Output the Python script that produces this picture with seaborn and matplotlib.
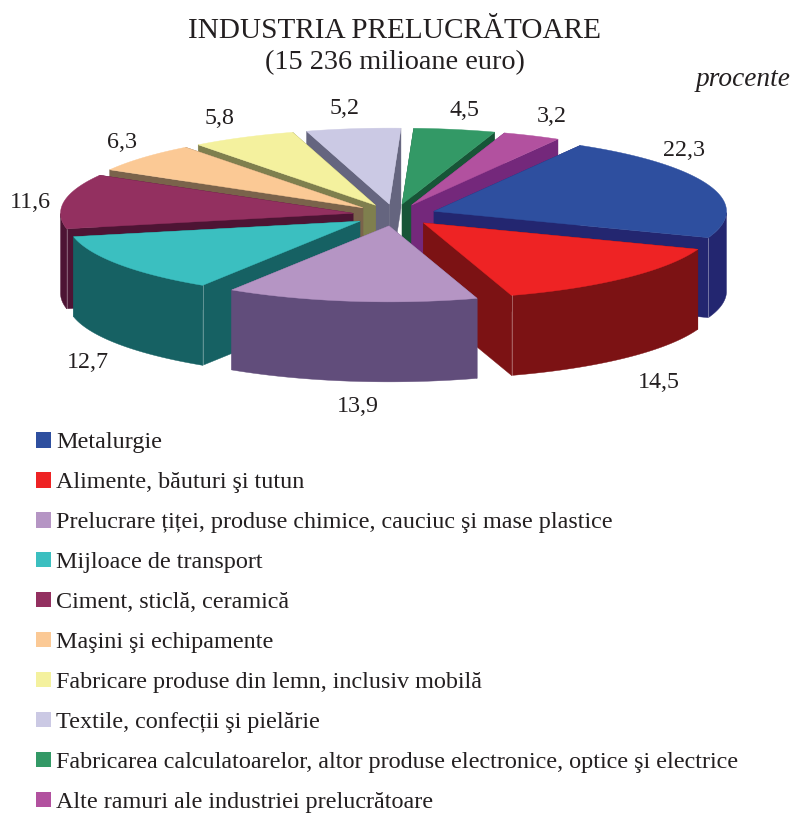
import numpy as np
import matplotlib
matplotlib.use('Agg')
import matplotlib.pyplot as plt
from matplotlib.patches import Patch, Polygon
import seaborn as sns

# --- data ---
categories = [
    'Metalurgie',
    'Alimente, băuturi şi tutun',
    'Prelucrare țiței, produse chimice, cauciuc şi mase plastice',
    'Mijloace de transport',
    'Ciment, sticlă, ceramică',
    'Maşini şi echipamente',
    'Fabricare produse din lemn, inclusiv mobilă',
    'Textile, confecții şi pielărie',
    'Fabricarea calculatoarelor, altor produse electronice, optice şi electrice',
    'Alte ramuri ale industriei prelucrătoare',
]
values = [22.3, 14.5, 13.9, 12.7, 11.6, 6.3, 5.8, 5.2, 4.5, 3.2]
value_labels = ['22,3', '14,5', '13,9', '12,7', '11,6', '6,3', '5,8', '5,2', '4,5', '3,2']
top_colors = ['#2e4f9f', '#ee2324', '#b595c4', '#3bbfc0', '#933060',
              '#fbc995', '#f4f19e', '#cbc9e4', '#339966', '#b2519f']
side_colors = ['#232670', '#7c1214', '#614d7b', '#166163', '#4d1434',
               '#7a634b', '#7f7f4e', '#65657f', '#175537', '#74287b']

# --- layout, in pixels of the 790x816 picture ---
CX, CY = 394.5, 215
RX, SQUASH = 292.5, 0.26
DEPTH = 80
EXPLODE = 42
START = 60
label_xy = [(684, 150), (659, 383), (358, 407), (88, 363), (30, 202),
            (122, 142), (220, 119), (345, 109), (464, 111), (552, 117)]
TEXT = '#231f20'

sns.set_style('white')
plt.rcParams['font.family'] = ['Liberation Serif', 'DejaVu Serif']

fig = plt.figure(figsize=(7.9, 8.16), dpi=100)
ax = fig.add_axes([0, 0, 1, 1])
ax.set_xlim(0, 790)
ax.set_ylim(816, 0)
ax.axis('off')


def project(theta, radius, tip):
    return np.column_stack([tip[0] + radius * np.cos(theta),
                            tip[1] - radius * SQUASH * np.sin(theta)])


def draw_slice(a0, a1, top, side):
    # a0 > a1, the pie runs clockwise
    mid = (a0 + a1) / 2
    tip = (CX + EXPLODE * np.cos(mid), CY - EXPLODE * SQUASH * np.sin(mid))
    theta = np.linspace(a0, a1, 80)
    rim = project(theta, RX, tip)
    down = np.array([0, DEPTH])

    # cut walls
    for edge in (rim[0], rim[-1]):
        wall = np.array([tip, edge, edge + down, np.array(tip) + down])
        ax.add_patch(Polygon(wall, closed=True, fc=side, ec=side, lw=0.3))

    # outer wall, only the part turned to the viewer
    front = np.sin(theta) < 0
    if front.any():
        arc = rim[front]
        ax.add_patch(Polygon(np.vstack([arc, (arc + down)[::-1]]), closed=True,
                             fc=side, ec=side, lw=0.3))
        # thin light corner where a cut wall meets the outer wall
        if not (a1 < -np.pi / 2 < a0):
            corner = rim[-1] if a0 > -np.pi / 2 else rim[0]
            ax.plot([corner[0]] * 2, [corner[1], corner[1] + DEPTH],
                    color='white', lw=0.5, alpha=0.45)

    ax.add_patch(Polygon(np.vstack([tip, rim]), closed=True, fc=top, ec=top, lw=0.3))


ends = START - np.cumsum(values) * 3.6
starts = np.r_[START, ends[:-1]]
mids = np.radians((starts + ends) / 2)

# back slices first, front slices over them
for i in np.argsort(-np.sin(mids)):
    draw_slice(np.radians(starts[i]), np.radians(ends[i]), top_colors[i], side_colors[i])

for label, (x, y) in zip(value_labels, label_xy):
    ax.text(x, y, label, fontsize=17.3, color=TEXT, ha='center', va='center')

ax.text(394.5, 31, 'INDUSTRIA PRELUCRĂTOARE', fontsize=21.1, color=TEXT, ha='center', va='center')
ax.text(395, 63, '(15 236 milioane euro)', fontsize=20.3, color=TEXT, ha='center', va='center')
ax.text(790, 79, 'procente', fontsize=19.7, style='italic', color=TEXT, ha='right', va='center')

handles = [Patch(fc=c, ec='none') for c in top_colors]
ax.legend(handles, categories, loc='upper left', bbox_to_anchor=(36, 432),
          bbox_transform=ax.transData, frameon=False, fontsize=17.4,
          labelcolor=TEXT, borderaxespad=0, borderpad=0, handlelength=0.62,
          handleheight=0.62, handletextpad=0.2, labelspacing=0.77)

plt.savefig('out.png', dpi=100)
